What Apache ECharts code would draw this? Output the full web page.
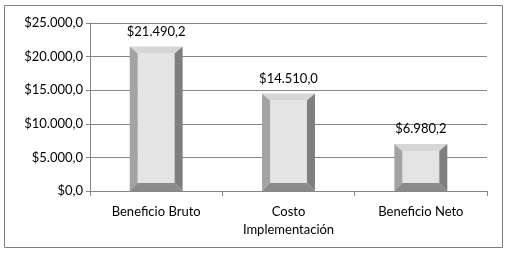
<!DOCTYPE html>
<html>
<head>
<meta charset="utf-8">
<script src="https://cdn.jsdelivr.net/npm/echarts@6/dist/echarts.min.js"></script>
<style>
html,body{margin:0;padding:0;background:#fff;}
#chart{width:507px;height:254px;}
</style>
</head>
<body>
<div id="chart"></div>
<script>
var categories = ['Beneficio Bruto', 'Costo\nImplementación', 'Beneficio Neto'];
var values = [21490.2, 14510.0, 6980.2];
var yTicks = [0, 5000, 10000, 15000, 20000, 25000];

// $21.490,2 style
function money(v){
	var parts = v.toFixed(1).split('.');
	var ent = parts[0].replace(/\B(?=(\d{3})+(?!\d))/g, '.');
	return '$' + ent + ',' + parts[1];
}

var font = 'Lato';

function renderBevel(params, api){
	var idx = api.value(0);
	var val = api.value(1);
	var top = api.coord([idx, val]);
	var base = api.coord([idx, 0]);
	var w = api.size([1, 0])[0] * 0.4;
	var x0 = top[0] - w / 2, x1 = top[0] + w / 2;
	var y0 = top[1], y1 = base[1];
	var b = 8;
	var bt = 7;
	return {
		type: 'group',
		children: [
			{type: 'rect', shape: {x: x0 + b, y: y0 + bt, width: w - 2 * b, height: y1 - y0 - bt - b}, style: {fill: '#e4e4e4'}},
			{type: 'polygon', shape: {points: [[x0, y0], [x1, y0], [x1 - b, y0 + bt], [x0 + b, y0 + bt]]}, style: {fill: '#d6d6d6'}},
			{type: 'polygon', shape: {points: [[x0, y0], [x0 + b, y0 + bt], [x0 + b, y1 - b], [x0, y1]]}, style: {fill: '#a3a3a3'}},
			{type: 'polygon', shape: {points: [[x1, y0], [x1, y1], [x1 - b, y1 - b], [x1 - b, y0 + bt]]}, style: {fill: '#7e7e7e'}},
			{type: 'polygon', shape: {points: [[x0, y1], [x0 + b, y1 - b], [x1 - b, y1 - b], [x1, y1]]}, style: {fill: '#8a8a8a'}},
			{type: 'text', x: top[0], y: y0 - 15, style: {text: money(val), fill: '#000', font: '13px ' + font, align: 'center', verticalAlign: 'middle'}}
		]
	};
}

var chart = echarts.init(document.getElementById('chart'));
chart.setOption({
	animation: false,
	backgroundColor: '#fff',
	grid: {left: 90, right: 20, top: 23, bottom: 63},
	graphic: [{
		type: 'rect',
		shape: {x: 4.5, y: 5.5, width: 498, height: 242},
		style: {fill: 'none', stroke: '#7f7f7f', lineWidth: 1},
		silent: true
	}],
	xAxis: {
		type: 'category',
		data: categories,
		boundaryGap: true,
		axisLine: {lineStyle: {color: '#868686'}},
		axisTick: {show: true, length: 5, alignWithLabel: false, lineStyle: {color: '#868686'}},
		axisLabel: {color: '#000', fontFamily: font, fontSize: 13, margin: 12, lineHeight: 18, interval: 0}
	},
	yAxis: {
		type: 'value',
		min: yTicks[0],
		max: yTicks[yTicks.length - 1],
		interval: 5000,
		axisLine: {show: true, lineStyle: {color: '#868686'}},
		axisTick: {show: true, length: 4, lineStyle: {color: '#868686'}},
		splitLine: {lineStyle: {color: '#868686'}},
		axisLabel: {color: '#000', fontFamily: font, fontSize: 13, margin: 7, formatter: money}
	},
	series: [{
		type: 'custom',
		renderItem: renderBevel,
		encode: {x: 0, y: 1},
		data: values.map(function(v, i){ return [i, v]; })
	}]
});
</script>
</body>
</html>
